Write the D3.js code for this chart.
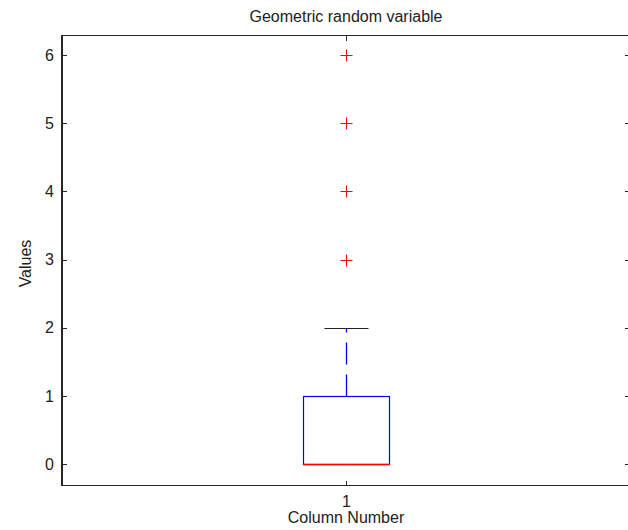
<!DOCTYPE html>
<html>
<head>
<meta charset="utf-8">
<script src="https://cdn.jsdelivr.net/npm/d3@7"></script>
<style>
  html, body { margin: 0; padding: 0; background: #fff; }
  svg { display: block; font-family: "Liberation Sans", Arial, sans-serif; }
</style>
</head>
<body>
<svg id="chart" width="628" height="530"></svg>
<script>
// Box plot summary for one column of geometric samples
const categories = ["1"];
const quartile1 = [0];
const medians = [0];
const quartile3 = [1];
const whiskerLow = [0];
const whiskerHigh = [2];
const outliers = [[3, 4, 5, 6]];
const yTickValues = [0, 1, 2, 3, 4, 5, 6];
const yLimits = [-0.314, 6.286];

const margin = { left: 62, top: 35.5, right: 630, bottom: 485.5 };
const svg = d3.select("#chart");

const x = d3.scaleLinear().domain([0.5, categories.length + 0.5]).range([margin.left, margin.right]);
const y = d3.scaleLinear().domain(yLimits).range([margin.bottom, margin.top]);
// pixel-snapped helpers for crisp 1px strokes
const px = v => Math.round(x(v)) + 0.5;
const py = v => Math.round(y(v)) + 0.5;

const boxHalf = 0.0757;      // half box width in x units
const capHalf = 0.0385;      // half whisker-cap width in x units
const axisColor = "#262626";

// Axes frame with inward ticks on all four sides
const tickLen = 5;
const gAxes = svg.append("g").attr("shape-rendering", "crispEdges");
gAxes.append("g")
  .attr("transform", `translate(${margin.left},0)`)
  .call(d3.axisLeft(y).tickValues(yTickValues).tickSizeInner(-tickLen).tickSizeOuter(0).tickPadding(8).tickFormat(d3.format("d")))
  .call(g => g.selectAll("text").attr("font-size", 16).attr("fill", "#222"));
gAxes.append("g")
  .attr("transform", `translate(${margin.right},0)`)
  .call(d3.axisRight(y).tickValues(yTickValues).tickSizeInner(-tickLen).tickSizeOuter(0).tickFormat(""));
gAxes.append("g")
  .attr("transform", `translate(0,${margin.bottom})`)
  .call(d3.axisBottom(x).tickValues(categories.map((c, i) => i + 1)).tickSizeInner(-tickLen).tickSizeOuter(0).tickPadding(10).tickFormat((d, i) => categories[i]))
  .call(g => g.selectAll("text").attr("font-size", 16).attr("fill", "#222"));
gAxes.append("g")
  .attr("transform", `translate(0,${margin.top})`)
  .call(d3.axisTop(x).tickValues(categories.map((c, i) => i + 1)).tickSizeInner(-tickLen).tickSizeOuter(0).tickFormat(""));
gAxes.selectAll(".domain").remove();
gAxes.selectAll("line").attr("stroke", axisColor);
gAxes.append("rect")
  .attr("x", margin.left).attr("y", margin.top)
  .attr("width", margin.right - margin.left).attr("height", margin.bottom - margin.top)
  .attr("fill", "none").attr("stroke", axisColor).attr("stroke-width", 1.4);

// Boxes, whiskers, medians and outliers
const gBox = svg.append("g");
categories.forEach((c, i) => {
  const cx = i + 1;
  // dashed whiskers, drawn outward from the box
  [[quartile3[i], whiskerHigh[i]], [quartile1[i], whiskerLow[i]]].forEach(([from, to]) => {
    gBox.append("line")
      .attr("x1", px(cx)).attr("x2", px(cx))
      .attr("y1", py(from)).attr("y2", py(to))
      .attr("stroke", "#0000ff").attr("stroke-width", 1.3).attr("stroke-dasharray", "22,10");
  });
  // whisker caps
  [whiskerHigh[i], whiskerLow[i]].forEach(v => {
    gBox.append("line")
      .attr("x1", px(cx - capHalf)).attr("x2", px(cx + capHalf))
      .attr("y1", py(v)).attr("y2", py(v))
      .attr("stroke", "#222").attr("stroke-width", 1.2);
  });
  // box
  gBox.append("rect")
    .attr("x", px(cx - boxHalf)).attr("y", py(quartile3[i]))
    .attr("width", px(cx + boxHalf) - px(cx - boxHalf))
    .attr("height", py(quartile1[i]) - py(quartile3[i]))
    .attr("fill", "none").attr("stroke", "#0000ff").attr("stroke-width", 1.2);
  // median
  gBox.append("line")
    .attr("x1", px(cx - boxHalf) - 0.5).attr("x2", px(cx + boxHalf) + 0.5)
    .attr("y1", py(medians[i])).attr("y2", py(medians[i]))
    .attr("stroke", "#ff0000").attr("stroke-width", 1.3);
  // outliers as plus markers
  const m = 6;
  outliers[i].forEach(v => {
    const ox = px(cx), oy = py(v);
    gBox.append("path")
      .attr("d", `M${ox - m},${oy}H${ox + m}M${ox},${oy - m}V${oy + m}`)
      .attr("stroke", "#ff0000").attr("stroke-width", 1.1).attr("fill", "none");
  });
});

// Title and axis labels
svg.append("text")
  .attr("x", (margin.left + margin.right) / 2).attr("y", 22)
  .attr("text-anchor", "middle").attr("font-size", 16).attr("fill", "#222")
  .text("Geometric random variable");
svg.append("text")
  .attr("x", x(1)).attr("y", 523)
  .attr("text-anchor", "middle").attr("font-size", 16).attr("fill", "#222")
  .text("Column Number");
svg.append("text")
  .attr("transform", `translate(31,${(margin.top + margin.bottom) / 2 + 3}) rotate(-90)`)
  .attr("text-anchor", "middle").attr("font-size", 16).attr("fill", "#222")
  .text("Values");
</script>
</body>
</html>
